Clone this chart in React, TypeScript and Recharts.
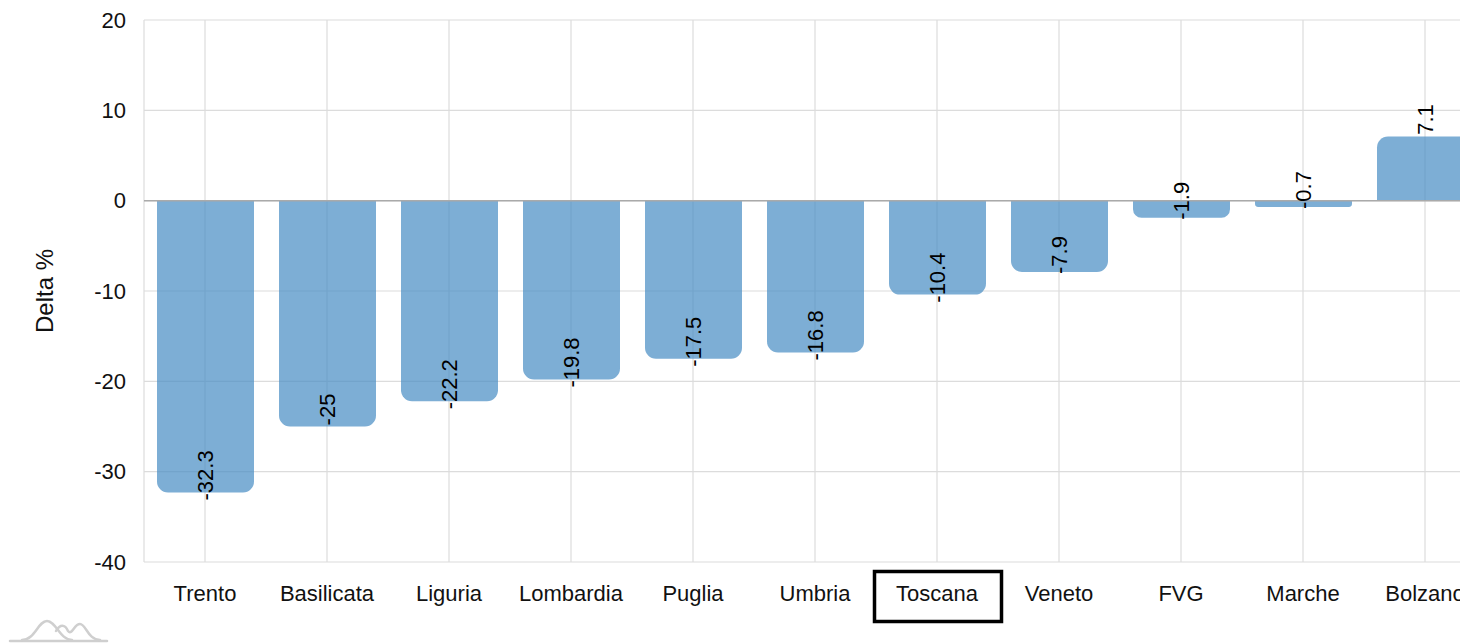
import React from "react";
import { BarChart, Bar, XAxis, YAxis, CartesianGrid, ReferenceLine, LabelList } from "recharts";

const regions = ["Trento", "Basilicata", "Liguria", "Lombardia", "Puglia", "Umbria", "Toscana", "Veneto", "FVG", "Marche", "Bolzano"];
const deltas = [-32.3, -25, -22.2, -19.8, -17.5, -16.8, -10.4, -7.9, -1.9, -0.7, 7.1];
const yTicks = [-40, -30, -20, -10, 0, 10, 20];
const highlighted = "Toscana";

const data = regions.map((r, i) => ({ region: r, value: deltas[i] }));

const FONT = "'Liberation Sans', Arial, Helvetica, sans-serif";

const renderLabel = (props: any) => {
  const { x, y, width, height, value } = props;
  const cx = x + width / 2;
  const endY = value < 0 ? Math.max(y, y + height) : Math.min(y, y + height);
  const cy = endY - 17;
  return (
    <text
      x={cx}
      y={cy}
      transform={`rotate(-90 ${cx} ${cy})`}
      textAnchor="middle"
      dominantBaseline="central"
      fontFamily={FONT}
      fontSize={22}
      fill="#000"
    >
      {value}
    </text>
  );
};

const XTick = (props: any) => {
  const { x, y, payload } = props;
  const isHi = payload.value === highlighted;
  return (
    <g>
      {isHi && (
        <rect x={x - 62.5} y={y + 1.5} width={127} height={50} fill="none" stroke="#000" strokeWidth={3.5} />
      )}
      <text x={x} y={y + 31} textAnchor="middle" fontFamily={FONT} fontSize={22} fill="#111">
        {payload.value}
      </text>
    </g>
  );
};

export default function App() {
  return (
    <div style={{ position: "fixed", left: 0, top: 0, width: 1460, height: 643, overflow: "hidden", background: "#fff" }}>
      <BarChart
        width={1500}
        height={643}
        data={data}
        margin={{ top: 20, right: 14, left: 84, bottom: 41 }}
        barSize={97}
      >
        <CartesianGrid stroke="#dcdcdc" strokeWidth={1.2} />
        <XAxis
          dataKey="region"
          axisLine={false}
          tickLine={false}
          height={40}
          interval={0}
          tick={<XTick />}
        />
        <YAxis
          domain={[-40, 20]}
          ticks={yTicks}
          axisLine={false}
          tickLine={false}
          width={60}
          tickMargin={12}
          tick={{ fontFamily: FONT, fontSize: 22, fill: "#111" }}
          label={{
            value: "Delta %",
            angle: -90,
            position: "insideLeft",
            offset: -40,
            style: { fontFamily: FONT, fontSize: 24, fill: "#111", textAnchor: "middle" },
          }}
        />
        <ReferenceLine y={0} stroke="#aaaaaa" strokeWidth={1.5} />
        <Bar
          dataKey="value"
          isAnimationActive={false}
          fill="rgb(70,140,195)"
          fillOpacity={0.7}
          radius={[11, 11, 0, 0]}
        >
          <LabelList dataKey="value" content={renderLabel} />
        </Bar>
      </BarChart>
      <svg width={120} height={43} style={{ position: "absolute", left: 0, top: 600 }}>
        <g fill="none" stroke="#cfcfcf" strokeWidth={2.5} strokeLinecap="round">
          <path d="M10,41 L107,41" />
          <path d="M22,40 C35,40 38,21 47,21 C56,21 60,40 72,40" />
          <path d="M56,31 C60,24 65,24 68,31 C72,36 74,24 80,24 C86,24 88,40 100,40" />
        </g>
      </svg>
    </div>
  );
}
